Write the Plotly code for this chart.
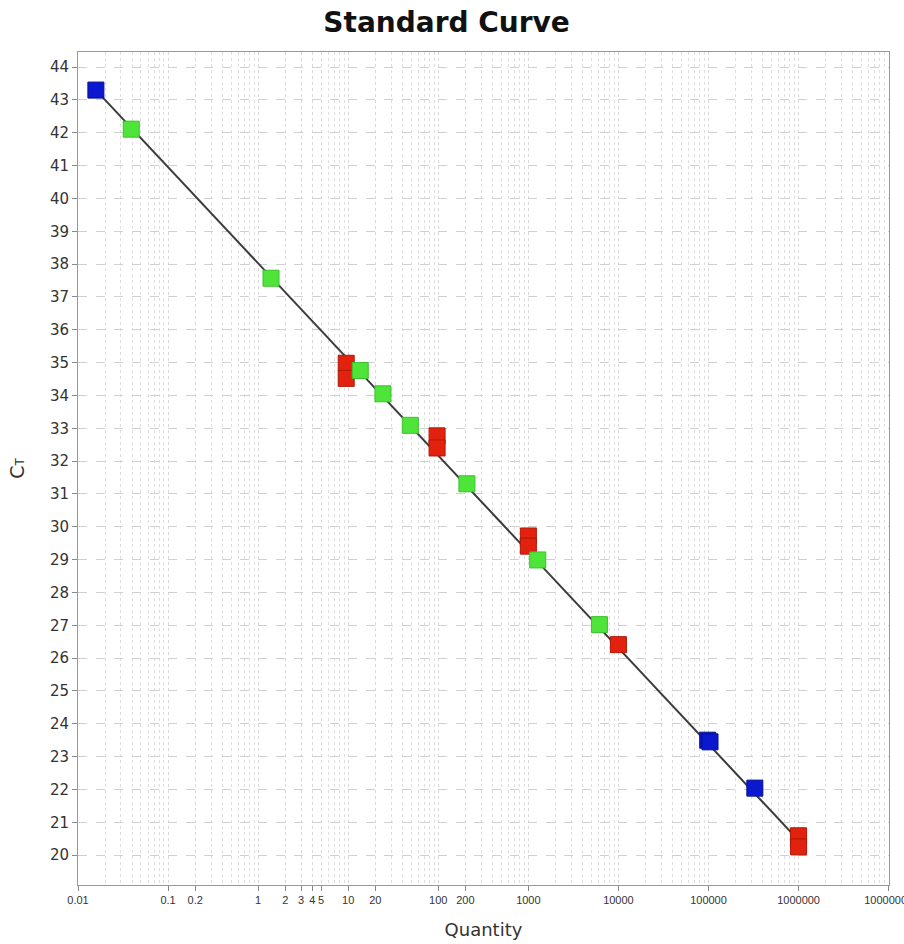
import plotly.graph_objects as go

# Data (Quantity, Ct)
blue_qty = [0.0158, 98000, 104000, 327000]
blue_ct = [43.30, 23.50, 23.45, 22.04]

green_qty = [0.039, 1.39, 13.6, 24.3, 48.9, 208, 1270, 6150]
green_ct = [42.11, 37.57, 34.76, 34.05, 33.09, 31.31, 28.99, 27.02]

red_qty = [9.5, 9.5, 97, 97, 1000, 1000, 10000, 1000000, 1000000]
red_ct = [34.98, 34.52, 32.77, 32.40, 29.72, 29.41, 26.41, 20.59, 20.25]

fit_qty = [0.0158, 1000000]
fit_ct = [43.30, 20.45]

x_tickvals = [0.01, 0.1, 0.2, 1, 2, 3, 4, 5, 10, 20, 100, 200, 1000, 10000,
              100000, 1000000, 10000000]
x_ticktext = ["0.01", "0.1", "0.2", "1", "2", "3", "4", "5", "10", "20", "100",
              "200", "1000", "10000", "100000", "1000000", "10000000"]
y_tickvals = list(range(20, 45))

fig = go.Figure()
fig.add_trace(go.Scatter(x=fit_qty, y=fit_ct, mode="lines",
                         line=dict(color="#3a3a3a", width=2), hoverinfo="skip",
                         showlegend=False))


def add_points(xs, ys, color, border):
    fig.add_trace(go.Scatter(x=xs, y=ys, mode="markers", showlegend=False,
                             marker=dict(symbol="square", size=16, color=color,
                                         line=dict(color=border, width=1))))


add_points(red_qty, red_ct, "#e2220f", "#b01808")
add_points(green_qty, green_ct, "#4ee43a", "#3cc02c")
add_points(blue_qty, blue_ct, "#0a18d0", "#061090")

fig.update_layout(
    width=904, height=944,
    margin=dict(l=78, r=15, t=52, b=59, autoexpand=False),
    paper_bgcolor="white", plot_bgcolor="white",
    font=dict(family="Liberation Sans, Arial, sans-serif", color="#222"),
    title=dict(text="<b>Standard Curve</b>", x=0.494, xanchor="center",
               y=0.977, yanchor="middle",
               font=dict(size=28, color="#111", family="DejaVu Sans")),
)
fig.update_xaxes(
    type="log", range=[-2, 7.004], automargin=False,
    tickmode="array", tickvals=x_tickvals, ticktext=x_ticktext,
    tickfont=dict(size=11, color="#333"), ticklabeloverflow="allow",
    ticks="outside", ticklen=5, tickcolor="#888",
    showline=True, linecolor="#999", linewidth=1, mirror=True,
    showgrid=True, gridcolor="#d8d8d8", griddash="dot", gridwidth=1,
    minor=dict(dtick="D1", showgrid=True, gridcolor="#dedede", griddash="dot",
               ticks=""),
    title=dict(text="Quantity", font=dict(size=18, color="#333",
                                          family="DejaVu Sans"), standoff=18),
    zeroline=False,
)
fig.update_yaxes(
    range=[19.09, 44.46], automargin=False,
    tickmode="array", tickvals=y_tickvals,
    tickfont=dict(size=15, color="#333", family="DejaVu Sans"),
    ticks="outside", ticklen=5, tickcolor="#888",
    showline=True, linecolor="#999", linewidth=1, mirror=True,
    showgrid=True, gridcolor="#d0d0d0", griddash="dash", gridwidth=1,
    title=dict(text="C<span style='font-size:12px'>T</span>",
               font=dict(size=19, color="#333", family="DejaVu Sans"),
               standoff=20),
    zeroline=False,
)

fig.write_html("out.html")
